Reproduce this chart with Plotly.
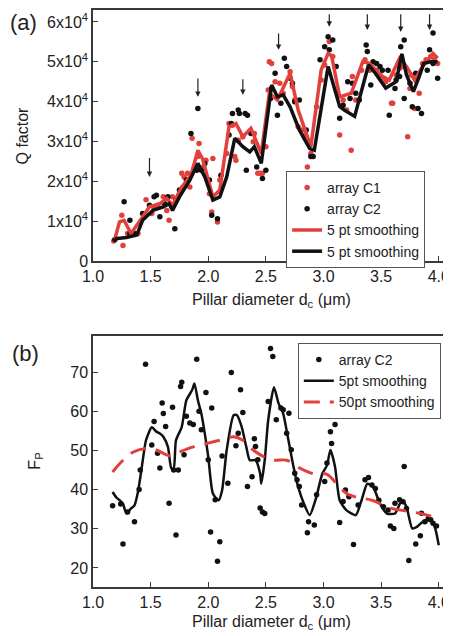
import numpy as np
import plotly.graph_objects as go

# ---------------- Panel (a): Q factor vs pillar diameter ----------------
c1_x = [1.18, 1.25, 1.26, 1.30, 1.35, 1.39, 1.46, 1.51, 1.53, 1.56, 1.61, 1.64, 1.66, 1.69,
        1.75, 1.77, 1.79, 1.82, 1.84, 1.86, 1.88, 1.91, 1.92, 1.96, 1.98, 2.01, 2.03, 2.08,
        2.04, 2.10, 2.16, 2.18, 2.21, 2.23, 2.24, 2.26, 2.30, 2.39, 2.40, 2.43, 2.45, 2.47,
        2.50, 2.52, 2.53, 2.55, 2.58, 2.62, 2.65, 2.71, 2.73, 2.75, 2.78, 2.81, 2.84, 2.86,
        2.89, 2.94, 2.98, 3.01, 3.05, 3.08, 3.14, 3.17, 3.20, 3.24, 3.25, 3.28, 3.33, 3.36,
        3.40, 3.46, 3.49, 3.51, 3.54, 3.59, 3.60, 3.63, 3.66, 3.69, 3.73, 3.75, 3.76, 3.79,
        3.83, 3.86, 3.89, 3.93, 3.96, 3.99]
c1_q = [0.50, 1.15, 0.39, 0.69, 0.69, 0.69, 1.54, 1.19, 1.32, 1.40, 1.61, 1.27, 1.02, 1.61,
        1.69, 2.20, 2.11, 2.20, 1.86, 3.08, 2.36, 2.62, 2.95, 2.36, 2.53, 1.69, 1.23, 0.98,
        2.57, 2.03, 2.70, 3.45, 3.41, 2.62, 2.53, 3.03, 3.12, 2.99, 3.20, 2.20, 2.20, 2.20,
        2.87, 4.29, 5.00, 4.96, 4.50, 4.46, 4.21, 4.75, 4.38, 4.04, 3.37, 3.29, 3.16, 2.36,
        2.70, 3.87, 4.54, 4.92, 5.51, 5.13, 3.16, 4.04, 3.79, 2.78, 4.63, 4.04, 4.79, 5.05,
        4.79, 4.79, 4.67, 4.59, 4.50, 3.96, 3.96, 4.67, 4.84, 4.88, 3.12, 4.33, 4.67, 3.83,
        4.21, 4.96, 5.05, 5.13, 5.05, 4.96]

c2_x = [1.19, 1.27, 1.32, 1.32, 1.36, 1.43, 1.49, 1.53, 1.55, 1.58, 1.62, 1.65, 1.71, 1.72,
        1.75, 1.81, 1.85, 1.90, 1.91, 1.94, 1.97, 2.01, 2.03, 2.08, 2.11, 2.18, 2.20, 2.21,
        2.26, 2.27, 2.32, 2.34, 2.37, 2.33, 2.42, 2.47, 2.50, 2.54, 2.55, 2.58, 2.60, 2.63,
        2.66, 2.68, 2.71, 2.73, 2.75, 2.79, 2.85, 2.91, 2.89, 2.97, 3.01, 3.04, 3.05, 3.08,
        3.11, 3.14, 3.17, 3.21, 3.23, 3.25, 3.28, 3.31, 3.37, 3.38, 3.41, 3.43, 3.46, 3.49,
        3.51, 3.56, 3.57, 3.62, 3.63, 3.66, 3.67, 3.70, 3.70, 3.75, 3.77, 3.80, 3.82, 3.85,
        3.90, 3.92, 3.95, 3.95, 3.99]
c2_q = [0.54, 1.49, 0.69, 1.02, 0.69, 1.19, 1.40, 1.61, 1.65, 1.11, 1.44, 1.61, 0.81, 1.53,
        1.78, 2.03, 3.20, 2.28, 3.83, 2.28, 2.45, 2.03, 1.15, 1.06, 2.15, 3.16, 3.45, 3.70,
        3.79, 3.70, 3.70, 3.66, 3.20, 2.28, 2.36, 2.07, 2.28, 4.08, 4.33, 4.71, 3.66, 3.96,
        5.09, 4.88, 4.59, 4.46, 4.00, 4.04, 3.29, 2.62, 2.62, 5.05, 5.38, 5.63, 5.30, 5.55,
        4.88, 3.58, 3.91, 4.50, 4.08, 4.46, 4.21, 4.04, 5.42, 5.26, 4.42, 5.00, 4.96, 4.88,
        4.79, 4.79, 3.66, 4.33, 4.54, 4.63, 5.38, 5.55, 4.08, 4.46, 3.87, 4.71, 3.83, 3.70,
        4.79, 5.30, 4.96, 5.72, 4.59]

c1_smooth_x = [1.19, 1.23, 1.27, 1.33, 1.40, 1.49, 1.58, 1.64, 1.69, 1.77, 1.85, 1.91, 1.95,
               2.04, 2.10, 2.18, 2.24, 2.30, 2.37, 2.46, 2.53, 2.60, 2.71, 2.78, 2.89, 2.98,
               3.04, 3.07, 3.14, 3.24, 3.34, 3.40, 3.49, 3.57, 3.66, 3.72, 3.79, 3.86, 3.95, 3.99]
c1_smooth_q = [0.56, 0.98, 1.02, 0.69, 0.98, 1.36, 1.44, 1.57, 1.40, 1.86, 2.15, 2.78, 2.57,
               1.61, 1.78, 3.37, 3.45, 3.12, 3.33, 2.70, 4.21, 4.04, 4.71, 3.79, 2.87, 4.80,
               5.21, 5.15, 4.12, 4.21, 5.00, 4.96, 4.67, 4.54, 5.09, 4.88, 4.54, 4.88, 5.21, 5.09]

c2_smooth_x = [1.19, 1.29, 1.38, 1.43, 1.52, 1.61, 1.66, 1.69, 1.75, 1.84, 1.91, 1.97, 2.04,
               2.10, 2.16, 2.23, 2.30, 2.36, 2.40, 2.46, 2.55, 2.60, 2.65, 2.71, 2.79, 2.88,
               2.92, 3.04, 3.14, 3.18, 3.27, 3.39, 3.44, 3.54, 3.63, 3.68, 3.72, 3.78, 3.83,
               3.87, 3.93, 3.99]
c2_smooth_q = [0.56, 0.59, 0.65, 1.02, 1.27, 1.36, 1.44, 1.27, 1.61, 2.03, 2.45, 2.11, 1.53,
               1.61, 2.11, 3.08, 2.87, 2.74, 2.87, 2.45, 4.42, 4.12, 4.17, 3.87, 3.29, 2.82,
               2.78, 4.88, 3.88, 3.79, 3.63, 4.92, 4.75, 4.34, 4.50, 5.20, 4.67, 4.25, 4.63,
               4.96, 5.00, 5.00]

arrow_x = [1.49, 1.91, 2.30, 2.61, 3.05, 3.38, 3.67, 3.92]
arrow_tip_q = [2.11, 4.12, 4.17, 5.30, 5.88, 5.80, 5.75, 5.80]
arrow_tail_q = [2.62, 4.62, 4.60, 5.75, 6.23, 6.23, 6.23, 6.23]

q_tick_vals = [0, 1, 2, 3, 4, 5, 6]
q_tick_text = ["0"] + ["%dx10<sup>4</sup>" % v for v in range(1, 7)]

# ---------------- Panel (b): Purcell factor ----------------
fp_x = [1.17, 1.24, 1.26, 1.30, 1.36, 1.40, 1.41, 1.456, 1.51, 1.53, 1.56, 1.58, 1.60, 1.61,
        1.63, 1.66, 1.69, 1.70, 1.72, 1.74, 1.76, 1.77, 1.79, 1.81, 1.84, 1.87, 1.90, 1.92,
        1.94, 1.98, 2.00, 2.02, 2.03, 2.06, 2.08, 2.10, 2.12, 2.17, 2.20, 2.24, 2.26, 2.28,
        2.30, 2.34, 2.38, 2.40, 2.41, 2.43, 2.45, 2.47, 2.49, 2.52, 2.54, 2.56, 2.59, 2.63,
        2.65, 2.68, 2.70, 2.72, 2.75, 2.77, 2.79, 2.81, 2.86, 2.87, 2.92, 2.94, 3.01, 3.03,
        3.06, 3.07, 3.10, 3.14, 3.17, 3.19, 3.22, 3.26, 3.30, 3.36, 3.39, 3.42, 3.45, 3.48,
        3.52, 3.56, 3.58, 3.61, 3.62, 3.66, 3.69, 3.70, 3.72, 3.74, 3.80, 3.84, 3.85, 3.88,
        3.91, 3.93, 3.95, 3.98]
fp_y = [35.9, 36.3, 26.1, 34.3, 31.8, 40.0, 45.0, 72.0, 51.4, 57.4, 49.3, 45.5, 62.1, 59.4,
        56.1, 36.5, 61.0, 45.0, 28.4, 45.0, 66.3, 67.4, 48.9, 58.7, 57.0, 56.6, 73.3, 60.0,
        55.3, 64.8, 47.6, 29.2, 60.8, 37.4, 21.7, 26.7, 48.6, 41.6, 69.9, 51.2, 54.4, 65.5,
        59.7, 40.8, 43.3, 53.0, 51.0, 47.6, 35.3, 34.3, 33.9, 62.5, 76.0, 74.0, 57.8, 60.8,
        60.4, 54.4, 59.5, 50.2, 44.2, 42.5, 40.8, 36.1, 29.0, 31.8, 31.0, 38.7, 42.1, 46.8,
        54.8, 51.8, 56.6, 31.6, 37.0, 39.9, 38.2, 26.0, 36.1, 42.5, 43.1, 41.2, 40.3, 37.3,
        35.6, 34.8, 30.7, 30.1, 36.5, 37.4, 36.9, 45.9, 35.2, 21.9, 26.1, 28.2, 34.0, 31.8,
        32.7, 32.3, 31.4, 30.7]

fp5_x = [1.17, 1.20, 1.23, 1.26, 1.29, 1.33, 1.36, 1.39, 1.42, 1.46, 1.51, 1.55, 1.58, 1.61,
         1.65, 1.68, 1.70, 1.72, 1.77, 1.81, 1.86, 1.88, 1.91, 1.94, 1.97, 2.00, 2.04, 2.09,
         2.12, 2.16, 2.22, 2.25, 2.29, 2.33, 2.36, 2.41, 2.45, 2.46, 2.49, 2.52, 2.57, 2.61,
         2.65, 2.69, 2.74, 2.78, 2.83, 2.88, 2.93, 2.99, 3.03, 3.06, 3.10, 3.14, 3.20, 3.28,
         3.33, 3.38, 3.43, 3.49, 3.55, 3.62, 3.68, 3.72, 3.77, 3.81, 3.88, 3.94, 3.97, 4.00]
fp5_y = [39.4, 38.1, 37.3, 36.4, 33.9, 35.2, 36.0, 39.4, 45.0, 52.6, 55.9, 54.8, 54.3, 53.5,
         50.9, 45.4, 45.4, 52.6, 56.0, 62.8, 65.4, 67.1, 62.8, 59.4, 54.3, 48.4, 39.0, 37.3,
         39.8, 50.1, 59.0, 59.0, 56.0, 50.9, 47.5, 47.5, 44.1, 41.5, 47.5, 57.7, 66.1, 62.0,
         59.4, 53.5, 45.8, 40.7, 36.4, 33.5, 37.3, 44.1, 46.2, 50.1, 45.8, 37.3, 34.7, 33.5,
         37.3, 41.5, 40.7, 36.4, 33.9, 33.9, 37.3, 35.6, 30.1, 30.5, 32.2, 31.8, 30.0, 25.8]

fp50_x = [1.17, 1.26, 1.35, 1.46, 1.55, 1.67, 1.75, 1.87, 1.99, 2.10, 2.22, 2.30, 2.39, 2.48,
          2.57, 2.68, 2.80, 2.91, 3.03, 3.13, 3.20, 3.28, 3.42, 3.59, 3.77, 3.90, 4.00]
fp50_y = [44.5, 47.5, 49.6, 50.5, 50.1, 48.6, 49.6, 50.9, 51.8, 52.6, 53.5, 52.6, 50.1, 48.4,
          47.5, 47.5, 45.4, 44.1, 43.9, 40.9, 39.0, 38.1, 37.3, 35.2, 34.3, 33.5, 32.6]

x_tick_vals = [1.0, 1.5, 2.0, 2.5, 3.0, 3.5, 4.0]
fp_tick_vals = [20, 30, 40, 50, 60, 70]

RED = "#e2403d"
BLACK = "#111111"
FONT = "Liberation Sans, Arial, sans-serif"

fig = go.Figure()
fig.add_trace(go.Scatter(x=c1_x, y=np.array(c1_q) * 1e4, mode="markers", name="array C1",
                         marker=dict(color=RED, size=5.5), xaxis="x", yaxis="y", legend="legend"))
fig.add_trace(go.Scatter(x=c2_x, y=np.array(c2_q) * 1e4, mode="markers", name="array C2",
                         marker=dict(color=BLACK, size=5.5), xaxis="x", yaxis="y", legend="legend"))
fig.add_trace(go.Scatter(x=c1_smooth_x, y=np.array(c1_smooth_q) * 1e4, mode="lines",
                         name="5 pt smoothing", line=dict(color=RED, width=3.5),
                         xaxis="x", yaxis="y", legend="legend"))
fig.add_trace(go.Scatter(x=c2_smooth_x, y=np.array(c2_smooth_q) * 1e4, mode="lines",
                         name="5 pt smoothing", line=dict(color=BLACK, width=3.5),
                         xaxis="x", yaxis="y", legend="legend"))

fig.add_trace(go.Scatter(x=fp_x, y=fp_y, mode="markers", name="array C2",
                         marker=dict(color=BLACK, size=5.5), xaxis="x2", yaxis="y2", legend="legend2"))
fig.add_trace(go.Scatter(x=fp5_x, y=fp5_y, mode="lines", name="5pt smoothing",
                         line=dict(color=BLACK, width=2.5, shape="spline", smoothing=0.6),
                         xaxis="x2", yaxis="y2", legend="legend2"))
fig.add_trace(go.Scatter(x=fp50_x, y=fp50_y, mode="lines", name="50pt smoothing",
                         line=dict(color=RED, width=3, dash="16px,10px", shape="spline"),
                         xaxis="x2", yaxis="y2", legend="legend2"))

axis_common = dict(showline=True, mirror=True, linecolor="#3a3a3a", linewidth=1.5,
                   ticks="inside", ticklen=5, tickwidth=1.2, tickcolor="#3a3a3a",
                   showgrid=False, zeroline=False, automargin=False,
                   tickfont=dict(family=FONT, size=16, color="#222"))

annotations = []
for ax_, tip, tail in zip(arrow_x, arrow_tip_q, arrow_tail_q):
    annotations.append(dict(x=ax_, y=tip * 1e4, ax=ax_, ay=tail * 1e4, xref="x", yref="y",
                            axref="x", ayref="y", showarrow=True, arrowhead=2, arrowsize=0.9,
                            arrowwidth=1.2, arrowcolor="#222", text=""))

label_font = dict(family=FONT, size=16, color="#222")
annotations += [
    dict(text="Q factor", x=-0.20, y=0.7825, xref="paper", yref="paper", textangle=-90,
         showarrow=False, font=label_font, xanchor="center", yanchor="middle"),
    dict(text="F<sub>P</sub>", x=-0.163, y=0.2175, xref="paper", yref="paper", textangle=-90,
         showarrow=False, font=label_font, xanchor="center", yanchor="middle"),
    dict(text="Pillar diameter d<sub>c</sub> (μm)", x=0.504, y=0.497, xref="paper", yref="paper",
         showarrow=False, font=label_font, xanchor="center", yanchor="middle"),
    dict(text="Pillar diameter d<sub>c</sub> (μm)", x=0.504, y=-0.062, xref="paper", yref="paper",
         showarrow=False, font=label_font, xanchor="center", yanchor="middle"),
    dict(text="(a)", x=-0.197, y=0.979, xref="paper", yref="paper", showarrow=False,
         font=dict(family=FONT, size=22, color="#222"), xanchor="center", yanchor="middle"),
    dict(text="(b)", x=-0.191, y=0.404, xref="paper", yref="paper", showarrow=False,
         font=dict(family=FONT, size=22, color="#222"), xanchor="center", yanchor="middle"),
]

legend_common = dict(xanchor="left", yanchor="top", bgcolor="white", bordercolor="#555",
                     borderwidth=1, font=dict(family=FONT, size=14, color="#222"),
                     tracegroupgap=0, itemwidth=30)

# The page body has an 8px default margin, so the figure is sized to fill the
# remaining 443x628 area of the 451x636 window.
fig.update_layout(
    width=443, height=628,
    margin=dict(l=85, r=3, t=2, b=49),
    paper_bgcolor="white", plot_bgcolor="white",
    showlegend=True,
    xaxis=dict(domain=[0, 1], range=[1.0, 4.08], anchor="y", tickvals=x_tick_vals,
               ticktext=["%.1f" % v for v in x_tick_vals], **axis_common),
    yaxis=dict(domain=[0.565, 1], range=[0, 6.3e4], anchor="x",
               tickvals=[v * 1e4 for v in q_tick_vals], ticktext=q_tick_text, **axis_common),
    xaxis2=dict(domain=[0, 1], range=[1.0, 4.08], anchor="y2", tickvals=x_tick_vals,
                ticktext=["%.1f" % v for v in x_tick_vals], **axis_common),
    yaxis2=dict(domain=[0, 0.435], range=[15.15, 79.2], anchor="x2",
                tickvals=fp_tick_vals, **axis_common),
    legend=dict(x=0.544, y=0.721, **legend_common),
    legend2=dict(x=0.577, y=0.423, **legend_common),
    annotations=annotations,
)

fig.write_html("out.html")
